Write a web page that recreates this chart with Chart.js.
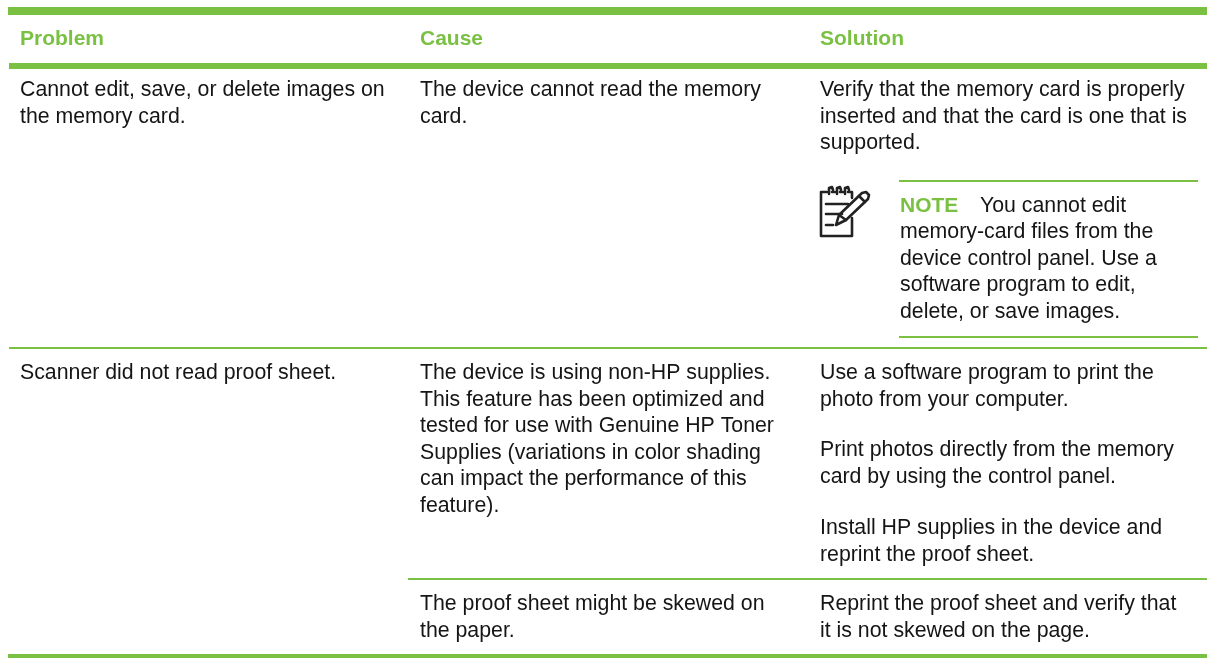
<!DOCTYPE html>
<html>
<head>
<meta charset="utf-8">
<title>Problem / Cause / Solution</title>
<script src="https://cdn.jsdelivr.net/npm/chart.js@4"></script>
<style>
  html, body { margin: 0; padding: 0; background: #fff; overflow: hidden; }
  canvas { display: block; }
</style>
</head>
<body>
<canvas id="tabla" width="1207" height="658"></canvas>
<script>
// Table text
const headers = ['Problem', 'Cause', 'Solution'];
const problemCell1 = ['Cannot edit, save, or delete images on', 'the memory card.'];
const problemCell2 = ['Scanner did not read proof sheet.'];
const causeCell1 = ['The device cannot read the memory', 'card.'];
const causeCell2 = ['The device is using non-HP supplies.', 'This feature has been optimized and', 'tested for use with Genuine HP Toner', 'Supplies (variations in color shading', 'can impact the performance of this', 'feature).'];
const causeCell3 = ['The proof sheet might be skewed on', 'the paper.'];
const solutionCell1 = ['Verify that the memory card is properly', 'inserted and that the card is one that is', 'supported.'];
const solutionCell2a = ['Use a software program to print the', 'photo from your computer.'];
const solutionCell2b = ['Print photos directly from the memory', 'card by using the control panel.'];
const solutionCell2c = ['Install HP supplies in the device and', 'reprint the proof sheet.'];
const solutionCell3 = ['Reprint the proof sheet and verify that', 'it is not skewed on the page.'];
const noteLabel = 'NOTE';
const noteFirst = 'You cannot edit';
const noteLines = ['memory-card files from the', 'device control panel. Use a', 'software program to edit,', 'delete, or save images.'];

const green = '#7ac143';
const ink = '#151515';
const bodyFont = '21.3px "Liberation Sans", Arial, sans-serif';
const boldFont = 'bold 21px "Liberation Sans", Arial, sans-serif';

// Rules: [x start, x end, y, thickness]
const rules = [
  [8, 1207, 11, 8],
  [9, 1207, 66, 6],
  [9, 1207, 348, 2],
  [408, 1207, 579, 2],
  [8, 1207, 656, 4],
  [899, 1198, 181, 2],
  [899, 1198, 337, 2]
];

// Note icon strokes, in the same axis units
const iconStrokes = [
  [[852, 218], [852, 236], [821, 236], [821, 192], [827, 192]],
  [[832, 192], [835, 192]],
  [[840, 192], [843, 192]],
  [[848, 192], [852, 192], [852, 198]],
  [[826, 204], [848, 204]],
  [[826, 214], [842, 214]],
  [[826, 225], [833, 225]],
  [[829, 194], [829, 188], [832, 187], [833, 190]],
  [[837, 194], [837, 188], [840, 187], [841, 190]],
  [[845, 194], [845, 188], [848, 187], [849, 190]],
  [[836, 225], [839, 215], [862, 193], [866, 192], [869, 195], [868, 199], [846, 220], [836, 225]],
  [[839, 215], [846, 220]],
  [[859, 196], [865, 202]]
];

const ruleSets = rules.map(r => ({
  data: [{ x: r[0], y: r[2] }, { x: r[1], y: r[2] }],
  borderColor: green, borderWidth: r[3], pointRadius: 0, showLine: true
}));
const iconSets = iconStrokes.map(s => ({
  data: s.map(p => ({ x: p[0], y: p[1] })),
  borderColor: '#222', borderWidth: 2.6, borderCapStyle: 'round', borderJoinStyle: 'round', pointRadius: 0, showLine: true
}));

// Text blocks: lines, x, first baseline
const lineGap = 26.5;
const blocks = [
  [problemCell1, 20, 96],
  [problemCell2, 20, 379],
  [causeCell1, 420, 96],
  [causeCell2, 420, 379],
  [causeCell3, 420, 610],
  [solutionCell1, 820, 96],
  [solutionCell2a, 820, 379],
  [solutionCell2b, 820, 456],
  [solutionCell2c, 820, 534],
  [solutionCell3, 820, 610],
  [noteLines, 900, 238]
];

const textoTabla = {
  id: 'textoTabla',
  afterDatasetsDraw(chart) {
    const { ctx, scales: { x, y } } = chart;
    ctx.save();
    ctx.textBaseline = 'alphabetic';
    ctx.textAlign = 'left';

    ctx.font = boldFont;
    ctx.fillStyle = green;
    [20, 420, 820].forEach((cx, i) => ctx.fillText(headers[i], x.getPixelForValue(cx), y.getPixelForValue(45)));
    ctx.fillText(noteLabel, x.getPixelForValue(900), y.getPixelForValue(212));

    ctx.font = bodyFont;
    ctx.fillStyle = ink;
    ctx.fillText(noteFirst, x.getPixelForValue(980), y.getPixelForValue(212));
    blocks.forEach(([lines, cx, cy]) => {
      lines.forEach((line, i) => ctx.fillText(line, x.getPixelForValue(cx), y.getPixelForValue(cy + i * lineGap)));
    });
    ctx.restore();
  }
};

new Chart(document.getElementById('tabla').getContext('2d'), {
  type: 'scatter',
  data: { datasets: ruleSets.concat(iconSets) },
  options: {
    responsive: false,
    animation: false,
    layout: { padding: 0 },
    plugins: { legend: { display: false }, tooltip: { enabled: false } },
    scales: {
      x: { type: 'linear', min: 0, max: 1207, display: false },
      y: { type: 'linear', min: 0, max: 658, reverse: true, display: false }
    }
  },
  plugins: [textoTabla]
});
</script>
</body>
</html>
